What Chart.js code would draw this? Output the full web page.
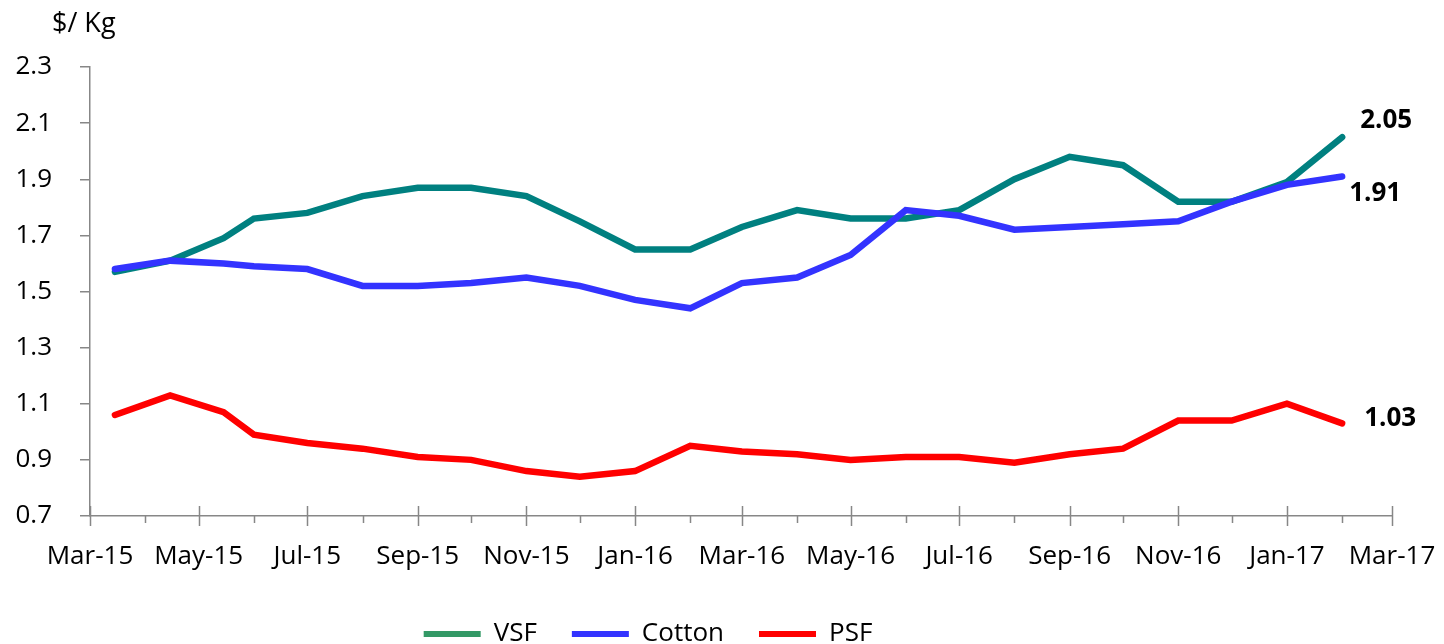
<!DOCTYPE html>
<html>
<head>
<meta charset="utf-8">
<script src="https://cdn.jsdelivr.net/npm/chart.js@4.4.1/dist/chart.umd.min.js"></script>
<style>
  html, body { margin: 0; padding: 0; overflow: hidden; background: #fff; }
  canvas { display: block; }
</style>
</head>
<body>
<canvas id="chart" width="1444" height="657"></canvas>
<script>
// observation dates (first three mid-month, then 1st of each month)
const dates = ['2015-03-15', '2015-04-15', '2015-05-15', '2015-06-01', '2015-07-01', '2015-08-01',
  '2015-09-01', '2015-10-01', '2015-11-01', '2015-12-01', '2016-01-01', '2016-02-01', '2016-03-01',
  '2016-04-01', '2016-05-01', '2016-06-01', '2016-07-01', '2016-08-01', '2016-09-01', '2016-10-01',
  '2016-11-01', '2016-12-01', '2017-01-01', '2017-02-01'];
const vsf = [1.57, 1.61, 1.69, 1.76, 1.78, 1.84, 1.87, 1.87, 1.84, 1.75, 1.65, 1.65, 1.73, 1.79,
  1.76, 1.76, 1.79, 1.90, 1.98, 1.95, 1.82, 1.82, 1.89, 2.05];
const cotton = [1.58, 1.61, 1.60, 1.59, 1.58, 1.52, 1.52, 1.53, 1.55, 1.52, 1.47, 1.44, 1.53, 1.55,
  1.63, 1.79, 1.77, 1.72, 1.73, 1.74, 1.75, 1.82, 1.88, 1.91];
const psf = [1.06, 1.13, 1.07, 0.99, 0.96, 0.94, 0.91, 0.90, 0.86, 0.84, 0.86, 0.95, 0.93, 0.92,
  0.90, 0.91, 0.91, 0.89, 0.92, 0.94, 1.04, 1.04, 1.10, 1.03];

const majorDates = ['2015-03-01', '2015-05-01', '2015-07-01', '2015-09-01', '2015-11-01', '2016-01-01',
  '2016-03-01', '2016-05-01', '2016-07-01', '2016-09-01', '2016-11-01', '2017-01-01', '2017-03-01'];
const majorLabels = ['Mar-15', 'May-15', 'Jul-15', 'Sep-15', 'Nov-15', 'Jan-16', 'Mar-16', 'May-16',
  'Jul-16', 'Sep-16', 'Nov-16', 'Jan-17', 'Mar-17'];
const minorDates = ['2015-04-01', '2015-06-01', '2015-08-01', '2015-10-01', '2015-12-01', '2016-02-01',
  '2016-04-01', '2016-06-01', '2016-08-01', '2016-10-01', '2016-12-01', '2017-02-01'];
const yTicks = [0.7, 0.9, 1.1, 1.3, 1.5, 1.7, 1.9, 2.1, 2.3];

const axisColor = '#878787';
const FONT = '"Open Sans", sans-serif';

// days since 1 Mar 2015
const day = s => (Date.parse(s) - Date.parse('2015-03-01')) / 86400000;
const xs = dates.map(day);
const pts = arr => arr.map((v, i) => ({x: xs[i], y: v}));

Chart.defaults.font.family = FONT;
Chart.defaults.font.size = 26;
Chart.defaults.color = '#000';

// minor + major tick marks on the date axis
const dateTicks = {
  id: 'dateTicks',
  afterDraw(chart) {
    const sx = chart.scales.x, ctx = chart.ctx, y0 = sx.top;
    ctx.save();
    ctx.strokeStyle = axisColor;
    ctx.lineWidth = 1.5;
    ctx.beginPath();
    majorDates.forEach(d => {
      const px = Math.round(sx.getPixelForValue(day(d))) + 0.5;
      ctx.moveTo(px, y0 - 10); ctx.lineTo(px, y0 + 10);
    });
    minorDates.forEach(d => {
      const px = Math.round(sx.getPixelForValue(day(d))) + 0.5;
      ctx.moveTo(px, y0); ctx.lineTo(px, y0 + 7);
    });
    ctx.stroke();
    ctx.restore();
  }
};

// unit label + end-of-line values
const annotations = {
  id: 'annotations',
  afterDraw(chart) {
    const ctx = chart.ctx;
    ctx.save();
    ctx.fillStyle = '#000';
    ctx.font = '27px ' + FONT;
    ctx.textAlign = 'left';
    ctx.textBaseline = 'alphabetic';
    ctx.fillText('$/ Kg', 52, 32);

    const offsets = [[18, -17], [7, 17], [22, -5]];
    ctx.font = 'bold 26px ' + FONT;
    ctx.textBaseline = 'middle';
    chart.data.datasets.forEach((ds, i) => {
      const meta = chart.getDatasetMeta(i);
      const last = meta.data[meta.data.length - 1];
      const val = ds.data[ds.data.length - 1].y;
      ctx.fillText(val.toFixed(2), last.x + offsets[i][0], last.y + offsets[i][1]);
    });
    ctx.restore();
  }
};

const legendShift = {
  id: 'legendShift',
  afterLayout(chart) {
    chart.legend.left -= 48;
    chart.legend.right -= 48;
  }
};

const legendColors = ['#339966', '#3333FF', '#FF0000'];

new Chart(document.getElementById('chart'), {
  type: 'line',
  data: {
    datasets: [
      {label: 'VSF', data: pts(vsf), borderColor: '#008080', backgroundColor: '#339966', order: 2},
      {label: 'Cotton', data: pts(cotton), borderColor: '#3333FF', backgroundColor: '#3333FF', order: 1},
      {label: 'PSF', data: pts(psf), borderColor: '#FF0000', backgroundColor: '#FF0000', order: 3}
    ]
  },
  options: {
    responsive: false,
    animation: false,
    events: [],
    layout: {padding: {top: 67, right: 52, left: 0, bottom: 0}},
    elements: {
      line: {tension: 0, borderWidth: 6.5, borderCapStyle: 'round', fill: false},
      point: {radius: 0}
    },
    scales: {
      x: {
        type: 'linear',
        min: 0,
        max: day('2017-03-01'),
        afterBuildTicks: s => { s.ticks = majorDates.map(d => ({value: day(d)})); },
        afterFit: s => { s.height = 70; s.paddingLeft = 0; s.paddingRight = 0; },
        border: {color: axisColor, width: 1.5},
        grid: {display: false, drawTicks: false},
        ticks: {
          autoSkip: false, maxRotation: 0, padding: 25, color: '#000',
          font: {size: 26}, callback: (v, i) => majorLabels[i]
        }
      },
      y: {
        min: 0.7,
        max: 2.3,
        afterBuildTicks: s => { s.ticks = yTicks.map(v => ({value: v})); },
        afterFit: s => { s.width = 90; },
        border: {color: axisColor, width: 1.5},
        grid: {drawOnChartArea: false, color: axisColor, lineWidth: 1.5, tickLength: 10},
        ticks: {padding: 28, color: '#000', font: {size: 26}, callback: v => v.toFixed(1)}
      }
    },
    plugins: {
      tooltip: {enabled: false},
      legend: {
        position: 'bottom',
        labels: {
          boxWidth: 57, boxHeight: 6, padding: 35, color: '#000', font: {size: 26},
          generateLabels: chart => chart.data.datasets.map((ds, i) => ({
            text: ds.label, fillStyle: legendColors[i], strokeStyle: legendColors[i],
            lineWidth: 0, hidden: false, datasetIndex: i
          }))
        }
      }
    }
  },
  plugins: [dateTicks, annotations, legendShift]
});
</script>
</body>
</html>
